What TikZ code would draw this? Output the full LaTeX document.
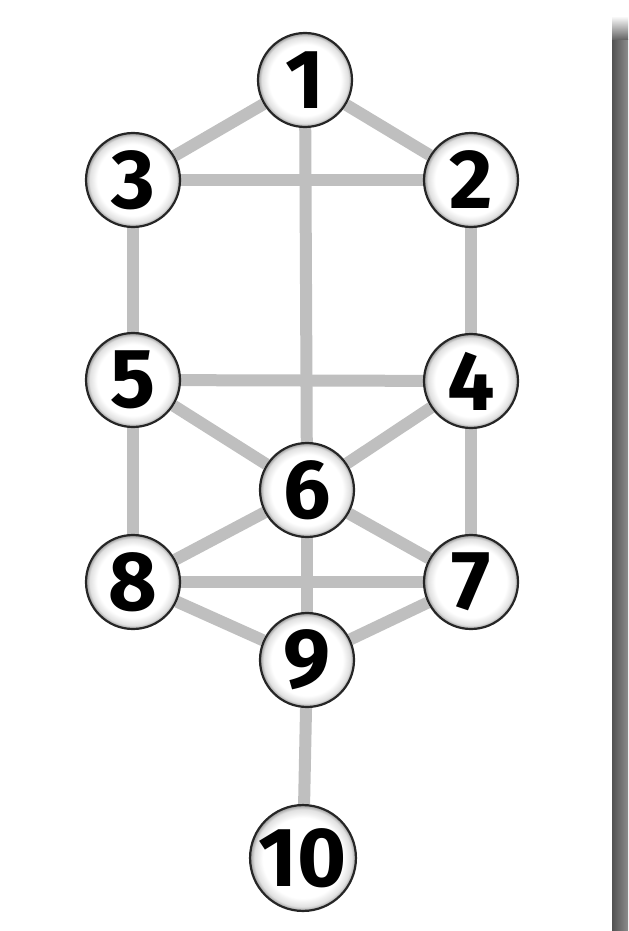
\documentclass[tikz,border=0pt]{standalone}
\usepackage{fontspec}
\setmainfont{Fira Sans}
\usetikzlibrary{backgrounds}
\pgfdeclareradialshading{bouton}{\pgfpoint{0bp}{0bp}}{color(0bp)=(white); color(19bp)=(white); color(23bp)=(black!12); color(25bp)=(black!40); color(50bp)=(black!40)}

\begin{document}
\begin{tikzpicture}[x=0.5pt, y=-0.5pt,
        sefira/.style={circle, draw=black!85, line width=1.1pt, shading=bouton,
            minimum size=47pt, inner sep=0pt, font=\fontsize{42}{42}\selectfont\bfseries},
        lien/.style={draw=black!25, line width=6pt}]
        \useasboundingbox (0,0) rectangle (628,931);
        % Barre grise à droite
        \shade[left color=black!68, right color=black!45] (612,40) rectangle (628,931);
        \shade[top color=white, bottom color=black!62] (612,16) rectangle (628,40);

        % Les dix cercles
        \node[sefira] (n1) at (305,80) {1};
        \node[sefira] (n3) at (133,180) {3};
        \node[sefira] (n2) at (471,180) {2};
        \node[sefira] (n5) at (133,380) {5};
        \node[sefira] (n4) at (471,381) {4};
        \node[sefira] (n6) at (307,490) {6};
        \node[sefira] (n8) at (133,582) {8};
        \node[sefira] (n7) at (471,582) {7};
        \node[sefira] (n9) at (307,660) {9};
        \node[sefira] (n10) at (303,858) {10};

        % Liens
        \begin{scope}[on background layer]
            \draw[lien] (n1) -- (n3);
            \draw[lien] (n1) -- (n2);
            \draw[lien] (n3) -- (n2);
            \draw[lien] (n1) -- (n6);
            \draw[lien] (n3) -- (n5);
            \draw[lien] (n2) -- (n4);
            \draw[lien] (n5) -- (n4);
            \draw[lien] (n5) -- (n6);
            \draw[lien] (n4) -- (n6);
            \draw[lien] (n5) -- (n8);
            \draw[lien] (n4) -- (n7);
            \draw[lien] (n6) -- (n8);
            \draw[lien] (n6) -- (n7);
            \draw[lien] (n6) -- (n9);
            \draw[lien] (n8) -- (n7);
            \draw[lien] (n8) -- (n9);
            \draw[lien] (n7) -- (n9);
            \draw[lien] (n9) -- (n10);
        \end{scope}
    \end{tikzpicture}
\end{document}
